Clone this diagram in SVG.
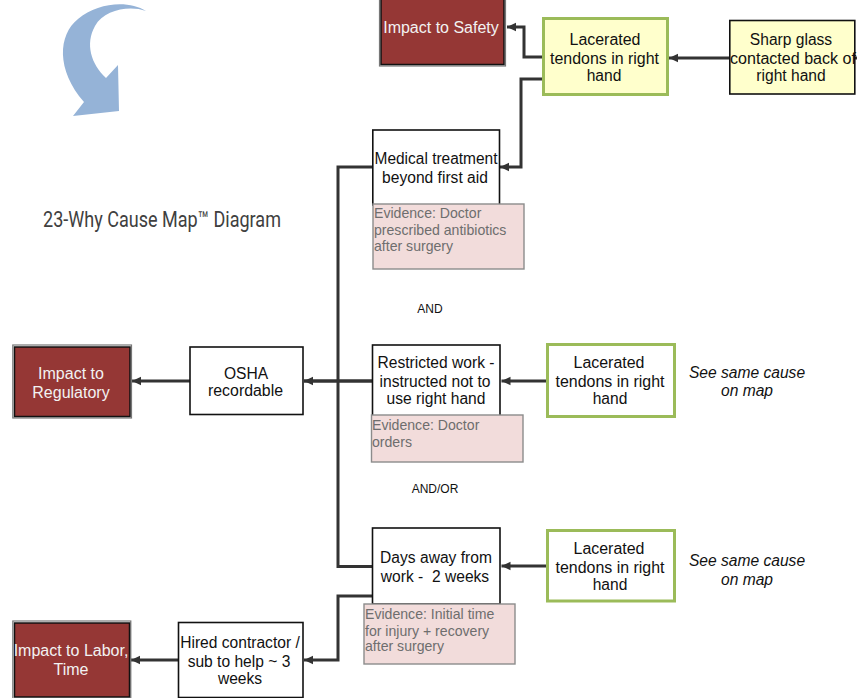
<svg xmlns="http://www.w3.org/2000/svg" width="857" height="698" viewBox="0 0 857 698">
<style>
text{font-family:"Liberation Sans",Arial,sans-serif;font-size:15.6px;text-anchor:middle;fill:#111}
.w{fill:#fff;stroke:#111;stroke-width:1.6}
.g{stroke:#9bbb59;stroke-width:3}
.y{fill:#ffffcc}
.r{fill:#953735;stroke:#111;stroke-width:1.5}
.ro{fill:none;stroke:#777;stroke-width:1.2}
.rt{fill:#f2f2f2;font-size:16px}
.e{fill:#f2dcdb;stroke:#8c8c8c;stroke-width:1.4}
.et{fill:#6e6e6e;text-anchor:start;font-size:14.1px}
.c{fill:none;stroke:#333;stroke-width:3}
.s{font-size:12px}
.i{font-style:italic}
</style>
<defs><marker id="a" markerUnits="userSpaceOnUse" markerWidth="10" markerHeight="10" refX="9" refY="5" orient="auto"><path d="M0 0.800L9 5L0 9.200z" fill="#333"/></marker></defs>
<g id="arrow"><path d="M146 11C129 0 98 2 78 19C58 35 56 70 84 102L73 116L119 111L118 65L106 78C91 64 85 44 95 26C104 10 129 5 146 11z" fill="#95b3d7"/></g>
<text x="162" y="227" style="font-family:'Roboto','Liberation Sans',sans-serif;font-size:22px;fill:#404040" textLength="238" lengthAdjust="spacingAndGlyphs">23-Why Cause Map™ Diagram</text>
<g id="connectors">
<path class="c" d="M542 57H524V27H507" marker-end="url(#a)"/>
<path class="c" d="M730 58H669" marker-end="url(#a)"/>
<path class="c" d="M543 79H521V167H500" marker-end="url(#a)"/>
<path class="c" d="M373 167H338V566.500H373"/>
<path class="c" d="M372 381H304" marker-end="url(#a)" style="stroke-width:3.500"/>
<path class="c" d="M547 381H501.500" marker-end="url(#a)"/>
<path class="c" d="M547 566H501.500" marker-end="url(#a)"/>
<path class="c" d="M190 381H132" marker-end="url(#a)"/>
<path class="c" d="M373 596H338V660H304" marker-end="url(#a)"/>
<path class="c" d="M178 660H131" marker-end="url(#a)"/>
<path class="c" d="M855 58H857"/>
</g>
<g id="impact-safety"><rect class="ro" x="379.500" y="-4" width="126" height="70"/><rect class="r" x="381" y="-4" width="123" height="68.500"/><text class="rt" x="441" y="32.500">Impact to Safety</text></g>
<g id="lacerated-1"><rect class="w y g" x="543.500" y="18.500" width="124" height="76"/><text x="605" y="44.500" textLength="71" lengthAdjust="spacingAndGlyphs">Lacerated</text><text x="604.500" y="63.500" textLength="109" lengthAdjust="spacingAndGlyphs">tendons in right</text><text x="604" y="80.500">hand</text></g>
<g id="sharp-glass"><rect class="w y" x="729.800" y="20.500" width="125" height="73.500"/><text x="791" y="44.500">Sharp glass</text><text x="793" y="63.500" textLength="126" lengthAdjust="spacingAndGlyphs">contacted back of</text><text x="791" y="80.500">right hand</text></g>
<g id="medical"><rect class="w" x="372.800" y="130" width="126.700" height="75"/><text x="436" y="163.500" textLength="123" lengthAdjust="spacingAndGlyphs">Medical treatment</text><text x="435" y="182.500">beyond first aid</text></g>
<g id="evidence-1"><rect class="e" x="373" y="204" width="151" height="65"/><text class="et" x="374" y="217.500">Evidence: Doctor</text><text class="et" x="374" y="234.500">prescribed antibiotics</text><text class="et" x="374" y="250.500">after surgery</text></g>
<text class="s" x="430" y="313">AND</text>
<g id="restricted"><rect class="w" x="372.500" y="345" width="127.500" height="71"/><text x="436" y="367.500">Restricted work -</text><text x="435" y="386.500">instructed not to</text><text x="436" y="403.500">use right hand</text></g>
<g id="lacerated-2"><rect class="w g" x="547.500" y="344.500" width="127" height="72"/><text x="609" y="367.500" textLength="71" lengthAdjust="spacingAndGlyphs">Lacerated</text><text x="610" y="386.500" textLength="109" lengthAdjust="spacingAndGlyphs">tendons in right</text><text x="610" y="403.500">hand</text></g>
<g id="see-2"><text class="i" x="747" y="377.500">See same cause</text><text class="i" x="747" y="395.500">on map</text></g>
<g id="evidence-2"><rect class="e" x="371.500" y="415" width="151.500" height="47"/><text class="et" x="372" y="429.500">Evidence: Doctor</text><text class="et" x="372" y="446.500">orders</text></g>
<text class="s" x="435" y="493">AND/OR</text>
<g id="days"><rect class="w" x="372.500" y="528" width="127.500" height="76"/><text x="436" y="562.500">Days away from</text><text x="435" y="581.500" xml:space="preserve">work -  2 weeks</text></g>
<g id="lacerated-3"><rect class="w g" x="547.500" y="530.500" width="127" height="70.500"/><text x="609" y="553.500" textLength="71" lengthAdjust="spacingAndGlyphs">Lacerated</text><text x="610" y="572.500" textLength="109" lengthAdjust="spacingAndGlyphs">tendons in right</text><text x="610" y="589.500">hand</text></g>
<g id="see-3"><text class="i" x="747" y="565.500">See same cause</text><text class="i" x="747" y="584.500">on map</text></g>
<g id="evidence-3"><rect class="e" x="364" y="604" width="151" height="60"/><text class="et" x="365" y="618.500">Evidence: Initial time</text><text class="et" x="365" y="635.500">for injury + recovery</text><text class="et" x="365" y="650.500">after surgery</text></g>
<g id="osha"><rect class="w" x="190" y="347" width="113" height="67.500"/><text x="246" y="378.500">OSHA</text><text x="245.500" y="395.500" textLength="75" lengthAdjust="spacingAndGlyphs">recordable</text></g>
<g id="impact-regulatory"><rect class="ro" x="12.800" y="345" width="118.700" height="73"/><rect class="r" x="14.500" y="347" width="115.500" height="69.500"/><text class="rt" x="71" y="378.500">Impact to</text><text class="rt" x="71" y="397.500">Regulatory</text></g>
<g id="hired"><rect class="w" x="178.500" y="622.500" width="124.500" height="75"/><text x="240" y="647.500">Hired contractor /</text><text x="239" y="666.500">sub to help ~ 3</text><text x="240" y="683.500">weeks</text></g>
<g id="impact-labor"><rect class="ro" x="12.800" y="621" width="118" height="78"/><rect class="r" x="14.500" y="623" width="115" height="74"/><text class="rt" x="71" y="655.500">Impact to Labor,</text><text class="rt" x="71" y="674.500">Time</text></g>
</svg>
